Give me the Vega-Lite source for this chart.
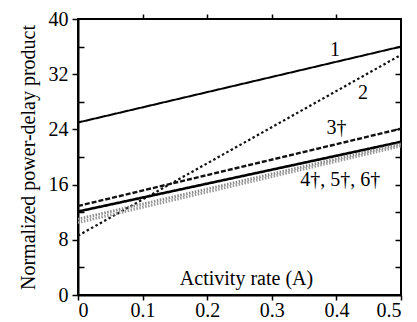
{
  "$schema": "https://vega.github.io/schema/vega-lite/v6.json",
  "width": 323,
  "height": 276,
  "autosize": {"type": "none"},
  "padding": {"left": 78, "top": 19, "right": 16, "bottom": 27},
  "background": "white",
  "config": {
    "view": {"stroke": "black", "strokeWidth": 2},
    "font": "Liberation Serif",
    "axis": {
      "labelFont": "Liberation Serif",
      "labelFontSize": 20,
      "labelColor": "black",
      "titleFont": "Liberation Serif",
      "titleFontSize": 20,
      "titleFontWeight": "normal",
      "titleColor": "black",
      "domainColor": "black",
      "domainWidth": 2,
      "tickColor": "black",
      "tickWidth": 1.5,
      "grid": false
    }
  },
  "datasets": {
    "lines": [
      {"series": "1", "a": 0, "v": 25},
      {"series": "1", "a": 0.5, "v": 36},
      {"series": "2", "a": 0, "v": 8.6},
      {"series": "2", "a": 0.5, "v": 34.8},
      {"series": "3", "a": 0, "v": 12.9},
      {"series": "3", "a": 0.5, "v": 24.1},
      {"series": "4", "a": 0, "v": 12.1},
      {"series": "4", "a": 0.5, "v": 22.2},
      {"series": "5", "a": 0, "v": 11.0},
      {"series": "5", "a": 0.5, "v": 21.9},
      {"series": "6", "a": 0, "v": 10.5},
      {"series": "6", "a": 0.5, "v": 21.6}
    ],
    "labels": [
      {"label": "1", "a": 0.398, "v": 35.5},
      {"label": "2", "a": 0.441, "v": 29.3},
      {"label": "3†", "a": 0.4, "v": 24.2},
      {"label": "4†, 5†, 6†", "a": 0.406, "v": 16.7}
    ]
  },
  "resolve": {"axis": {"x": "independent", "y": "independent"}},
  "layer": [
    {
      "data": {"name": "lines"},
      "mark": {"type": "line", "clip": true},
      "encoding": {
        "x": {
          "field": "a",
          "type": "quantitative",
          "scale": {"domain": [0, 0.5], "nice": false},
          "axis": {
            "orient": "bottom",
            "values": [0, 0.1, 0.2, 0.3, 0.4, 0.5],
            "format": "~g",
            "tickSize": 5,
            "labelPadding": 0,
            "title": "Activity rate (A)",
            "titleY": -17,
            "titleX": 168,
            "titleBaseline": "middle"
          }
        },
        "y": {
          "field": "v",
          "type": "quantitative",
          "scale": {"domain": [0, 40], "nice": false},
          "axis": {
            "orient": "left",
            "values": [0, 4, 8, 12, 16, 20, 24, 28, 32, 36, 40],
            "labelExpr": "datum.value % 8 === 0 ? datum.label : ''",
            "tickSize": {"condition": {"test": "datum.value % 8 === 0", "value": 6}, "value": -6},
            "labelPadding": 4,
            "title": "Normalized power-delay product",
            "titlePadding": 10
          }
        },
        "detail": {"field": "series", "type": "nominal"},
        "color": {
          "field": "series",
          "type": "nominal",
          "scale": {"domain": ["1", "2", "3", "4", "5", "6"], "range": ["black", "#111", "#111", "black", "#888", "#999"]},
          "legend": null
        },
        "strokeDash": {
          "field": "series",
          "type": "nominal",
          "scale": {"domain": ["1", "2", "3", "4", "5", "6"], "range": [[1, 0], [2.5, 2.5], [5, 2], [1, 0], [1.5, 1.5], [1.5, 1.5]]},
          "legend": null
        },
        "strokeWidth": {
          "field": "series",
          "type": "ordinal",
          "scale": {"domain": ["1", "2", "3", "4", "5", "6"], "range": [2, 3, 2.5, 2.2, 2.5, 2.5]},
          "legend": null
        }
      }
    },
    {
      "data": {"name": "lines"},
      "mark": {"type": "line", "opacity": 0},
      "encoding": {
        "x": {
          "field": "a",
          "type": "quantitative",
          "axis": {
            "orient": "top",
            "values": [0.1, 0.2, 0.3, 0.4],
            "labels": false,
            "domain": false,
            "tickSize": 5,
            "title": null
          }
        },
        "y": {
          "field": "v",
          "type": "quantitative",
          "axis": {
            "orient": "right",
            "values": [4, 8, 12, 16, 20, 24, 28, 32, 36],
            "labels": false,
            "domain": false,
            "tickSize": -6,
            "title": null
          }
        },
        "detail": {"field": "series", "type": "nominal"}
      }
    },
    {
      "data": {"name": "labels"},
      "mark": {"type": "text", "font": "Liberation Serif", "fontSize": 20, "color": "black"},
      "encoding": {
        "x": {"field": "a", "type": "quantitative", "axis": null},
        "y": {"field": "v", "type": "quantitative", "axis": null},
        "text": {"field": "label"}
      }
    }
  ]
}
